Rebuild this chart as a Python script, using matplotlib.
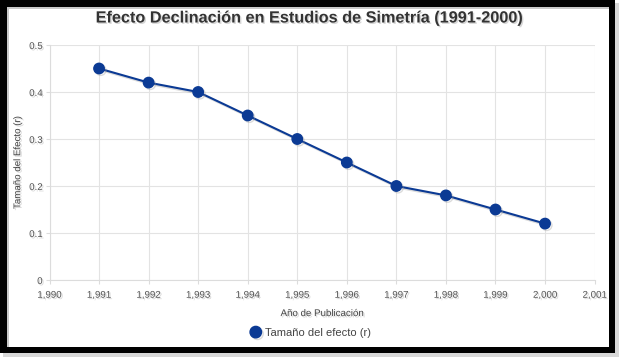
import matplotlib
matplotlib.use("Agg")
import matplotlib.pyplot as plt
import matplotlib.patheffects as pe
from matplotlib.patches import Rectangle
from matplotlib.ticker import FuncFormatter, MultipleLocator

years = [1991, 1992, 1993, 1994, 1995, 1996, 1997, 1998, 1999, 2000]
effect = [0.45, 0.42, 0.40, 0.35, 0.30, 0.25, 0.20, 0.18, 0.15, 0.12]

title = "Efecto Declinación en Estudios de Simetría (1991-2000)"
xlabel = "Año de Publicación"
ylabel = "Tamaño del Efecto (r)"
series_name = "Tamaño del efecto (r)"

plt.rcParams['font.family'] = ['Liberation Sans', 'DejaVu Sans']

W, H = 622, 361
fig = plt.figure(figsize=(W / 100, H / 100), dpi=100)
fig.patch.set_facecolor('white')

def px(x0, y0, x1, y1, **kw):
    # rectangle in pixel coords (top-left origin)
    return Rectangle((x0 / W, 1 - y1 / H), (x1 - x0) / W, (y1 - y0) / H,
                     transform=fig.transFigure, **kw)

# outer shadow + black frame + white interior
fig.patches.append(px(3, 3, 619, 357, facecolor='#d8d8d8', edgecolor='none', zorder=-10))
fig.patches.append(px(0, 0, 615, 353, facecolor='black', edgecolor='none', zorder=-9))
fig.patches.append(px(7, 7, 609, 347, facecolor='#c8c8c8', edgecolor='none', zorder=-8))
fig.patches.append(px(9, 9, 609, 347, facecolor='white', edgecolor='none', zorder=-7))

ax = fig.add_axes([49.5 / W, 1 - 280 / H, (594.6 - 49.5) / W, (280 - 45) / H])
ax.set_facecolor('none')

shadow = [pe.withSimplePatchShadow(offset=(1, -1), shadow_rgbFace='#9a9a9a', alpha=0.4)]
lshadow = [pe.SimpleLineShadow(offset=(1.2, -1.2), shadow_color='#999999', alpha=0.35), pe.Normal()]

ax.plot(years, effect, color='#0b3a94', lw=1.5, marker='o', markersize=7.5,
        markerfacecolor='#0b3a94', markeredgecolor='#0b3a94', label=series_name,
        path_effects=lshadow, zorder=3)

ax.set_xlim(1990, 2001)
ax.set_ylim(0, 0.5)
ax.xaxis.set_major_locator(MultipleLocator(1))
ax.yaxis.set_major_locator(MultipleLocator(0.1))
ax.xaxis.set_major_formatter(FuncFormatter(lambda v, p: f"{int(round(v)):,}"))
ax.yaxis.set_major_formatter(FuncFormatter(lambda v, p: "0" if abs(v) < 1e-9 else f"{v:.1f}"))

ax.grid(True, color='#e3e3e3', lw=0.8)
ax.set_axisbelow(True)
for s in ['top', 'right']:
    ax.spines[s].set_visible(False)
for s in ['left', 'bottom']:
    ax.spines[s].set_color('#dcdcdc')
    ax.spines[s].set_linewidth(0.8)
ax.tick_params(axis='both', colors='#dcdcdc', labelcolor='#555555', labelsize=7, length=3, width=0.8)
ax.tick_params(axis='x', pad=4)
ax.tick_params(axis='y', pad=2)
for lab in ax.get_xticklabels() + ax.get_yticklabels():
    lab.set_path_effects(shadow)

ax.set_xlabel(xlabel, fontsize=7, color='#444444', labelpad=6, path_effects=shadow)
ax.set_ylabel(ylabel, fontsize=7, color='#444444', labelpad=5, path_effects=shadow)

fig.text(309 / W, 1 - 18 / H, title, ha='center', va='center', fontsize=11.7,
         fontweight='bold', color='#333333', path_effects=shadow)

leg = fig.legend(loc='center', bbox_to_anchor=(311 / W, 1 - 333 / H), frameon=False,
                 fontsize=8, handlelength=0.8, handletextpad=0.4, markerscale=1.1)
for t in leg.get_texts():
    t.set_color('#444444')
for h in leg.legend_handles:
    h.set_linestyle('none')

fig.savefig('out.png', dpi=100)
